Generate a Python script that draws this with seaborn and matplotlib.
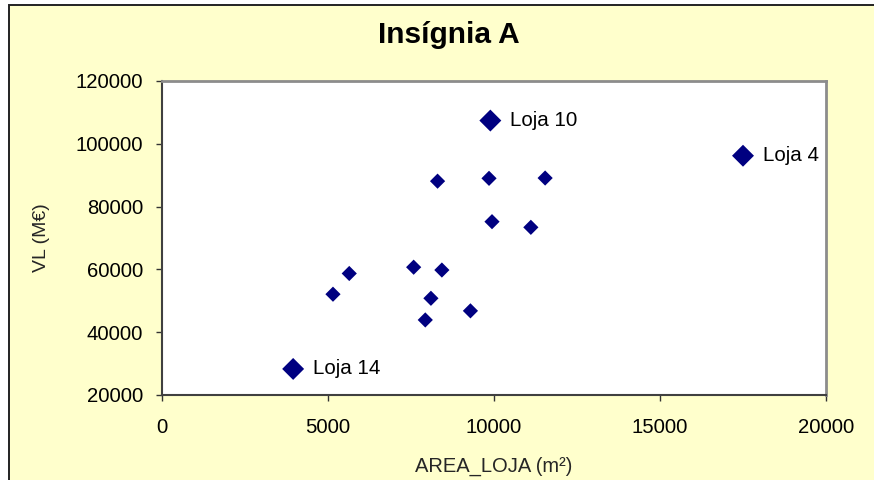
import matplotlib
matplotlib.use("Agg")
import matplotlib.pyplot as plt
from matplotlib.patches import Rectangle
import seaborn as sns
import pandas as pd

# Store data: floor area (m²) vs. sales volume (M€)
area_loja = [3950, 5150, 5640, 7580, 8430, 8100, 7930, 8300, 9290,
             9850, 9890, 9940, 11110, 11540, 17500]
vl = [28300, 52100, 58700, 60700, 59800, 50800, 43900, 88100, 46800,
      89000, 107400, 75200, 73400, 89100, 96200]
lojas = ["Loja 14", "", "", "", "", "", "", "", "",
         "", "Loja 10", "", "", "", "Loja 4"]

x_ticks = [0, 5000, 10000, 15000, 20000]
y_ticks = [20000, 40000, 60000, 80000, 100000, 120000]

df = pd.DataFrame({"AREA_LOJA": area_loja, "VL": vl, "Loja": lojas})
df["destaque"] = df["Loja"].ne("")

sns.set_style("white")
plt.rcParams["font.family"] = ["Liberation Sans", "DejaVu Sans"]

W, H = 874, 480
fig = plt.figure(figsize=(W / 100, H / 100), dpi=100)
fig.patch.set_facecolor("white")

# chart area background with its dark frame
fig.patches.append(Rectangle((9 / W, -0.05), 1.2, 1 - 5 / H + 0.05,
                             transform=fig.transFigure, facecolor="#FFFFCC",
                             edgecolor="#222222", linewidth=1.4, zorder=-10))

ax = fig.add_axes([162 / W, 1 - 395 / H, (826 - 162) / W, (395 - 81) / H])
ax.set_facecolor("white")
ax.set_zorder(1)

sns.scatterplot(data=df, x="AREA_LOJA", y="VL", size="destaque",
                sizes={False: 60, True: 125}, marker="D", color="#000080",
                linewidth=0, legend=False, ax=ax, zorder=3)

for _, row in df[df["destaque"]].iterrows():
    ax.annotate(row["Loja"], (row["AREA_LOJA"], row["VL"]),
                xytext=(14.5, 0), textcoords="offset points",
                ha="left", va="center", fontsize=14.8, color="black")

ax.set_xlim(x_ticks[0], x_ticks[-1])
ax.set_ylim(y_ticks[0], y_ticks[-1])
ax.set_xticks(x_ticks)
ax.set_yticks(y_ticks)
ax.set_xticklabels([str(t) for t in x_ticks])
ax.set_yticklabels([str(t) for t in y_ticks])
ax.tick_params(axis="both", which="major", direction="out", length=4.5,
               width=1, color="#333333", labelsize=14.6, labelcolor="black",
               left=True, bottom=True)
ax.tick_params(axis="y", pad=9)
ax.tick_params(axis="x", pad=12)

for side in ("left", "bottom"):
    ax.spines[side].set_color("#404040")
    ax.spines[side].set_linewidth(1.5)
for side in ("top", "right"):
    ax.spines[side].set_color("#8c8c8c")
    ax.spines[side].set_linewidth(2)

ax.set_xlabel("AREA_LOJA (m²)", fontsize=14.5)
ax.set_ylabel("VL (M€)", fontsize=14)
ax.xaxis.label.set_va("center")
ax.yaxis.label.set_va("center")
ax.xaxis.set_label_coords(0.5, (395 - 466) / (395 - 81))
ax.yaxis.set_label_coords((42 - 162) / (826 - 162), 0.5)

fig.text(449 / W, 1 - 43 / H, "Insígnia A", ha="center", va="baseline",
         fontsize=21.5, fontweight="bold", color="black")

fig.savefig("out.png", dpi=100, facecolor=fig.get_facecolor())
